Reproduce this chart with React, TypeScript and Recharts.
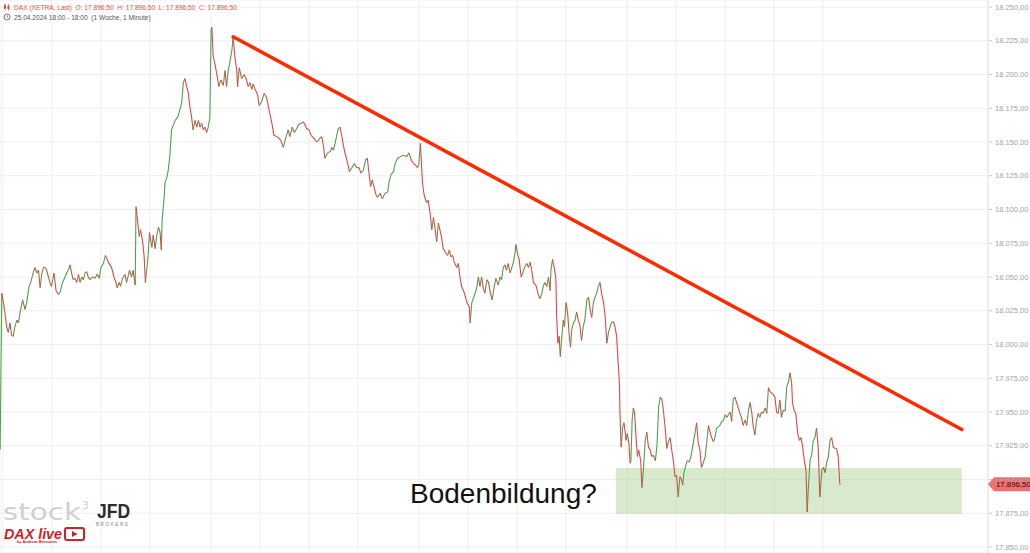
import React from "react";
import {
  ComposedChart,
  Line,
  XAxis,
  YAxis,
  CartesianGrid,
  ReferenceLine,
  ReferenceArea,
  ReferenceDot,
} from "recharts";

// ---- data (minute index since 26.04. 09:00 in trading minutes, price) ----
const day26: [number, number][] = [
  [-7, 17922], [-3, 18038], [1, 18031], [5, 18023], [9, 18013], [13, 18009], [17, 18016], [21, 18007],
  [25, 18006], [29, 18013], [34, 18018], [38, 18016], [42, 18024], [48, 18033], [54, 18026], [58, 18031],
  [64, 18043], [68, 18046], [74, 18053], [78, 18057], [83, 18053], [87, 18055], [91, 18042], [95, 18052],
  [99, 18057], [103, 18057], [107, 18055], [115, 18046], [119, 18043], [125, 18053], [130, 18040], [136, 18037],
  [140, 18039], [146, 18046], [152, 18050], [156, 18053], [160, 18055], [164, 18059], [168, 18053], [172, 18048],
  [176, 18049], [181, 18046], [185, 18052], [189, 18046], [193, 18050], [197, 18048], [201, 18053], [205, 18054],
  [209, 18050], [213, 18048], [220, 18050], [225, 18049], [231, 18052], [236, 18049], [240, 18057], [246, 18060],
  [251, 18066], [254, 18064], [258, 18061], [262, 18059], [266, 18057], [272, 18050], [277, 18046], [280, 18042],
  [285, 18046], [288, 18043], [293, 18049], [299, 18052], [303, 18046], [310, 18055], [315, 18050], [319, 18055],
  [324, 18044], [326, 18102], [329, 18094], [334, 18080], [337, 18085], [342, 18077], [346, 18065], [349, 18046],
  [352, 18055], [355, 18063], [359, 18083], [362, 18077], [365, 18072], [368, 18081], [373, 18071], [377, 18081],
  [381, 18087], [385, 18083], [388, 18070], [390, 18092], [395, 18109], [397, 18120], [401, 18123], [405, 18129],
  [409, 18140], [413, 18159], [422, 18166], [429, 18169], [438, 18179], [442, 18194], [446, 18197], [450, 18191],
  [454, 18187], [458, 18176], [462, 18169], [466, 18159], [471, 18166], [475, 18161], [479, 18166], [483, 18161],
  [487, 18164], [491, 18159], [495, 18161], [499, 18157], [503, 18161], [507, 18168],
];
const day29: [number, number][] = [
  [510, 18233], [512, 18235], [515, 18214], [520, 18207], [526, 18197], [529, 18191], [534, 18196], [540, 18192],
  [544, 18203], [548, 18191], [552, 18203], [556, 18209], [561, 18218], [564, 18228], [568, 18214], [573, 18203],
  [575, 18191], [579, 18205], [585, 18197], [591, 18200], [597, 18196], [601, 18191], [605, 18194], [610, 18189],
  [613, 18193], [618, 18189], [624, 18185], [628, 18177], [634, 18180], [640, 18186], [646, 18183], [652, 18174],
  [659, 18164], [664, 18155], [671, 18154], [676, 18153], [681, 18151], [687, 18146], [693, 18153], [699, 18159],
  [703, 18154], [709, 18161], [714, 18157], [720, 18160], [725, 18163], [732, 18164], [736, 18165], [740, 18163],
  [744, 18160], [750, 18159], [755, 18155], [761, 18153], [766, 18151], [771, 18150], [777, 18153], [781, 18154],
  [785, 18148], [789, 18138], [796, 18142], [802, 18143], [806, 18146], [810, 18144], [814, 18149], [818, 18155],
  [822, 18160], [826, 18161], [830, 18155], [834, 18148], [838, 18142], [845, 18134], [849, 18128], [855, 18131],
  [861, 18134], [867, 18131], [873, 18131], [877, 18127], [883, 18129], [889, 18137], [893, 18138], [897, 18127],
  [901, 18117], [905, 18122], [910, 18116], [914, 18111], [918, 18109], [924, 18112], [930, 18108], [936, 18112],
  [943, 18113], [946, 18120], [951, 18126], [957, 18128], [961, 18134], [967, 18138], [973, 18139], [979, 18140],
  [985, 18140], [989, 18139], [995, 18142], [1000, 18137], [1006, 18134], [1011, 18133], [1016, 18131], [1019, 18133],
  [1023, 18149],
];
const day30: [number, number][] = [
  [1028, 18120], [1032, 18111], [1038, 18105], [1042, 18107], [1047, 18097], [1051, 18085], [1055, 18094], [1059, 18086],
  [1063, 18076], [1067, 18090], [1071, 18085], [1075, 18079], [1079, 18071], [1085, 18068], [1090, 18066], [1094, 18070],
  [1098, 18065], [1102, 18066], [1106, 18061], [1112, 18057], [1116, 18060], [1120, 18050], [1124, 18043], [1131, 18038],
  [1137, 18031], [1143, 18028], [1145, 18016], [1149, 18031], [1154, 18035], [1161, 18042], [1165, 18050], [1169, 18043],
  [1173, 18050], [1177, 18042], [1181, 18038], [1186, 18048], [1190, 18046], [1194, 18039], [1199, 18033], [1204, 18043],
  [1208, 18049], [1214, 18044], [1218, 18050], [1222, 18048], [1226, 18057], [1230, 18059], [1234, 18055], [1238, 18060],
  [1243, 18053], [1247, 18057], [1251, 18061], [1255, 18068], [1257, 18074], [1262, 18066], [1265, 18063], [1270, 18050],
  [1274, 18053], [1278, 18057], [1284, 18060], [1288, 18057], [1292, 18061], [1296, 18055], [1300, 18046], [1306, 18044],
  [1311, 18038], [1316, 18034], [1320, 18037], [1324, 18043], [1328, 18046], [1333, 18043], [1337, 18050], [1341, 18040],
  [1343, 18055], [1347, 18063], [1351, 18057], [1355, 18049], [1357, 18020], [1360, 18001], [1363, 18006], [1366, 17991],
  [1369, 18003], [1373, 18018], [1376, 18013], [1380, 18031], [1384, 18023], [1388, 18006], [1391, 17998], [1394, 18011],
  [1398, 18016], [1402, 18018], [1406, 18024], [1410, 18018], [1414, 18014], [1418, 18003], [1422, 18013], [1426, 18018],
  [1431, 18033], [1435, 18035], [1439, 18026], [1443, 18020], [1447, 18031], [1451, 18035], [1455, 18038], [1459, 18043],
  [1463, 18046], [1467, 18038], [1472, 18031], [1476, 18020], [1480, 18001], [1484, 18009], [1491, 18016], [1496, 18017],
  [1500, 18013], [1504, 18006], [1508, 17985], [1511, 17970], [1512, 17951],
];
const dayMai: [number, number][] = [
  [1515, 17924], [1519, 17939], [1522, 17942], [1525, 17935], [1527, 17929], [1530, 17934], [1534, 17927], [1537, 17912],
  [1539, 17914], [1542, 17944], [1545, 17953], [1548, 17949], [1552, 17929], [1555, 17917], [1558, 17922], [1563, 17914],
  [1566, 17894], [1570, 17909], [1574, 17929], [1578, 17935], [1582, 17924], [1586, 17922], [1590, 17917], [1594, 17918],
  [1599, 17914], [1603, 17926], [1607, 17954], [1611, 17961], [1615, 17959], [1618, 17953], [1623, 17938], [1627, 17923],
  [1631, 17928], [1635, 17931], [1639, 17922], [1643, 17914], [1647, 17902], [1651, 17903], [1655, 17887], [1659, 17902],
  [1663, 17900], [1666, 17896], [1669, 17905], [1674, 17911], [1677, 17914], [1682, 17913], [1686, 17917], [1690, 17924],
  [1696, 17934], [1700, 17942], [1704, 17927], [1708, 17922], [1712, 17909], [1716, 17912], [1721, 17917], [1725, 17928],
  [1729, 17940], [1733, 17935], [1737, 17931], [1741, 17928], [1745, 17931], [1749, 17938], [1753, 17939], [1757, 17940],
  [1762, 17943], [1766, 17944], [1770, 17948], [1774, 17946], [1778, 17948], [1782, 17950], [1786, 17943], [1790, 17960],
  [1794, 17961], [1798, 17957], [1802, 17953], [1806, 17949], [1810, 17946], [1814, 17940], [1819, 17944], [1823, 17940],
  [1827, 17951], [1831, 17957], [1835, 17950], [1839, 17939], [1843, 17933], [1847, 17944], [1851, 17949], [1855, 17946],
  [1859, 17950], [1863, 17949], [1868, 17953], [1872, 17949], [1876, 17968], [1880, 17965], [1884, 17964], [1888, 17963],
  [1892, 17961], [1896, 17950], [1900, 17949], [1904, 17959], [1908, 17946], [1912, 17951], [1917, 17951], [1921, 17969],
  [1925, 17972], [1929, 17979], [1933, 17971], [1935, 17957], [1939, 17951], [1943, 17949], [1948, 17934], [1952, 17929],
  [1956, 17931], [1960, 17924], [1964, 17914], [1968, 17907], [1971, 17876], [1974, 17894], [1978, 17914], [1982, 17918],
  [1986, 17929], [1990, 17931], [1994, 17938], [1998, 17924], [2002, 17887], [2007, 17907], [2011, 17909], [2015, 17905],
  [2019, 17913], [2023, 17917], [2027, 17929], [2031, 17931], [2035, 17924], [2039, 17923], [2043, 17923], [2047, 17917],
  [2051, 17896.5],
];

const xTickMinutes = [0, 120, 240, 360, 510, 630, 750, 870, 1020, 1140, 1260, 1380, 1530, 1650, 1770, 1890, 2010];
const xTickLabels = ["26", "11:00", "13:00", "15:00", "29", "11:00", "13:00", "15:00", "30", "11:00", "13:00", "15:00", "Mai", "11:00", "13:00", "15:00", "17:00"];
const yTicks = [17850, 17875, 17900, 17925, 17950, 17975, 18000, 18025, 18050, 18075, 18100, 18125, 18150, 18175, 18200, 18225, 18250];
const xDomain: [number, number] = [-7.35, 2414.2];
const yDomain: [number, number] = [17845.55, 18255.2];

const trendStart = { t: 564, v: 18228 };
const trendEnd = { t: 2350, v: 17937 };
const zoneTime = [1502, 2350];
const zonePrice = [17874.5, 17908.5];
const lastPrice = 17896.5;
const lastMinute = 2051;

// ---- helpers ----
const W = 1030;
const H = 553;
const AXIS_W = 42;
const FONT = "'Liberation Sans', Arial, sans-serif";

const allPoints = [...day26, ...day29, ...day30, ...dayMai].map(([t, v]) => ({ t, v }));

function splitDirection(up: boolean) {
  const out: { t: number; v: number | null }[] = [];
  let open = false;
  for (let i = 1; i < allPoints.length; i++) {
    const a = allPoints[i - 1];
    const b = allPoints[i];
    const isUp = b.v >= a.v;
    if (isUp === up) {
      if (!open) {
        out.push({ t: a.t, v: a.v });
        open = true;
      }
      out.push({ t: b.t, v: b.v });
    } else if (open) {
      out.push({ t: a.t, v: null });
      open = false;
    }
  }
  return out;
}
const upData = splitDirection(true);
const downData = splitDirection(false);

function de(v: number) {
  const neg = v < 0;
  const s = Math.abs(v).toFixed(2);
  const [int, dec] = s.split(".");
  const withDots = int.replace(/\B(?=(\d{3})+(?!\d))/g, ".");
  return (neg ? "-" : "") + withDots + "," + dec;
}

const XTick = (props: any) => {
  const { x, payload } = props;
  const idx = xTickMinutes.indexOf(payload.value);
  return (
    <g>
      <text x={x} y={H - 3.5} textAnchor="middle" fontSize={7.5} fill="#a0a0a0" fontFamily={FONT}>
        {xTickLabels[idx]}
      </text>
      <line x1={x} x2={x} y1={H - 2} y2={H} stroke="#c8c8c8" />
    </g>
  );
};

const YTick = (props: any) => {
  const { y, payload } = props;
  const x0 = W - AXIS_W;
  return (
    <g>
      <line x1={x0 + 1} x2={x0 + 4} y1={y} y2={y} stroke="#c8c8c8" />
      <text x={x0 + 7} y={y + 2.6} fontSize={7.5} fill="#a4a4a4" fontFamily={FONT}>
        {de(payload.value)}
      </text>
    </g>
  );
};

const PriceTag = (props: any) => {
  const { cx, cy } = props;
  if (cx == null || cy == null) return null;
  const x0 = cx;
  return (
    <g>
      <polygon
        points={`${x0},${cy} ${x0 + 6},${cy - 7} ${W},${cy - 7} ${W},${cy + 7} ${x0 + 6},${cy + 7}`}
        fill="#f07070"
      />
      <text x={x0 + 8} y={cy + 2.7} fontSize={7.8} fill="#3a0505" fontFamily={FONT}>
        {de(lastPrice)}
      </text>
    </g>
  );
};

const Overlay = () => (
  <svg
    width={W}
    height={H}
    style={{ position: "absolute", left: 0, top: 0, pointerEvents: "none" }}
  >
    {/* header line 1 */}
    <g>
      <line x1={5} x2={5} y1={3.5} y2={10} stroke="#e04848" strokeWidth={0.8} />
      <rect x={4} y={5} width={2} height={3.5} fill="#e04848" />
      <line x1={8.5} x2={8.5} y1={4} y2={10.5} stroke="#e04848" strokeWidth={0.8} />
      <rect x={7.5} y={6} width={2} height={3} fill="#e04848" />
      <text x={14} y={9.5} fontSize={6.6} fill="#e55050" fontFamily={FONT} xmlSpace="preserve">
        {"DAX (XETRA, Last)  O: 17.896,50  H: 17.896,50  L: 17.896,50  C: 17.896,50"}
      </text>
    </g>
    {/* header line 2 */}
    <g>
      <circle cx={7} cy={17} r={3} fill="none" stroke="#555" strokeWidth={0.8} />
      <line x1={7} x2={7} y1={15.2} y2={17} stroke="#555" strokeWidth={0.7} />
      <line x1={7} x2={8.3} y1={17} y2={17.8} stroke="#555" strokeWidth={0.7} />
      <text x={14} y={19.5} fontSize={6.6} fill="#555" fontFamily={FONT} xmlSpace="preserve">
        {"25.04.2024 18:00 - 18:00  (1 Woche, 1 Minute)"}
      </text>
    </g>
    {/* Bodenbildung label */}
    <text x={410} y={503} fontSize={28} fill="#111" fontFamily={FONT}>
      Bodenbildung?
    </text>
    {/* logos */}
    <text x={3} y={520} fontSize={23} fill="#d0d0d0" fontFamily="'DejaVu Sans', sans-serif" textLength={78} lengthAdjust="spacingAndGlyphs">
      stock
    </text>
    <text x={82} y={509} fontSize={11} fill="#d0d0d0" fontFamily="'DejaVu Sans', sans-serif">
      3
    </text>
    <text x={97} y={518} fontSize={20} fontWeight="bold" fill="#2b2b2b" fontFamily={FONT} textLength={33} lengthAdjust="spacingAndGlyphs">
      JFD
    </text>
    <text x={96} y={525.5} fontSize={4.8} fill="#8a8a8a" fontFamily={FONT} textLength={32} lengthAdjust="spacing">
      BROKERS
    </text>
    <text x={4} y={538.5} fontSize={15} fontWeight="bold" fontStyle="italic" fill="#d11f26" fontFamily={FONT} textLength={58} lengthAdjust="spacingAndGlyphs">
      DAX live
    </text>
    <text x={17} y={542.5} fontSize={3.6} fontWeight="bold" fill="#c01a20" fontFamily={FONT} textLength={40} lengthAdjust="spacingAndGlyphs">
      by Andreas Bernstein
    </text>
    <rect x={65} y={528} width={19} height={12} rx={2} fill="#fff" stroke="#d11f26" strokeWidth={2} />
    <polygon points="72,531 72,537 77.5,534" fill="#d11f26" />
  </svg>
);

export default function App() {
  return (
    <div style={{ position: "relative", width: W, height: H, background: "#fff", overflow: "hidden" }}>
      <style>{"body{margin:0;background:#fff}"}</style>
      <ComposedChart width={W} height={H} margin={{ top: 0, right: 0, bottom: 0, left: 0 }}>
        <CartesianGrid stroke="#eeeeee" strokeWidth={1} />
        <XAxis
          type="number"
          dataKey="t"
          domain={xDomain}
          allowDataOverflow
          ticks={xTickMinutes}
          interval={0}
          height={0}
          axisLine={false}
          tickLine={false}
          tick={<XTick />}
        />
        <YAxis
          type="number"
          orientation="right"
          domain={yDomain}
          allowDataOverflow
          ticks={yTicks}
          interval={0}
          width={AXIS_W}
          axisLine={{ stroke: "#e4e4e4" }}
          tickLine={false}
          tick={<YTick />}
        />
        <ReferenceArea
          x1={zoneTime[0]}
          x2={zoneTime[1]}
          y1={zonePrice[0]}
          y2={zonePrice[1]}
          fill="#b9d7a4"
          fillOpacity={0.55}
          stroke="none"
          ifOverflow="visible"
        />
        <Line
          data={upData}
          dataKey="v"
          type="linear"
          stroke="#4f9f4f"
          strokeWidth={1.1}
          dot={false}
          activeDot={false}
          connectNulls={false}
          isAnimationActive={false}
        />
        <Line
          data={downData}
          dataKey="v"
          type="linear"
          stroke="#d84a4a"
          strokeWidth={1.1}
          dot={false}
          activeDot={false}
          connectNulls={false}
          isAnimationActive={false}
        />
        <ReferenceLine
          segment={[
            { x: trendStart.t, y: trendStart.v },
            { x: trendEnd.t, y: trendEnd.v },
          ]}
          stroke="#ff2a00"
          strokeWidth={3.5}
          strokeLinecap="round"
          ifOverflow="visible"
        />
        <ReferenceDot x={lastMinute} y={lastPrice} r={1} fill="#aaaaaa" stroke="none" ifOverflow="visible" />
        <ReferenceDot x={xDomain[1]} y={lastPrice} r={0} ifOverflow="visible" shape={<PriceTag />} />
      </ComposedChart>
      <Overlay />
    </div>
  );
}
